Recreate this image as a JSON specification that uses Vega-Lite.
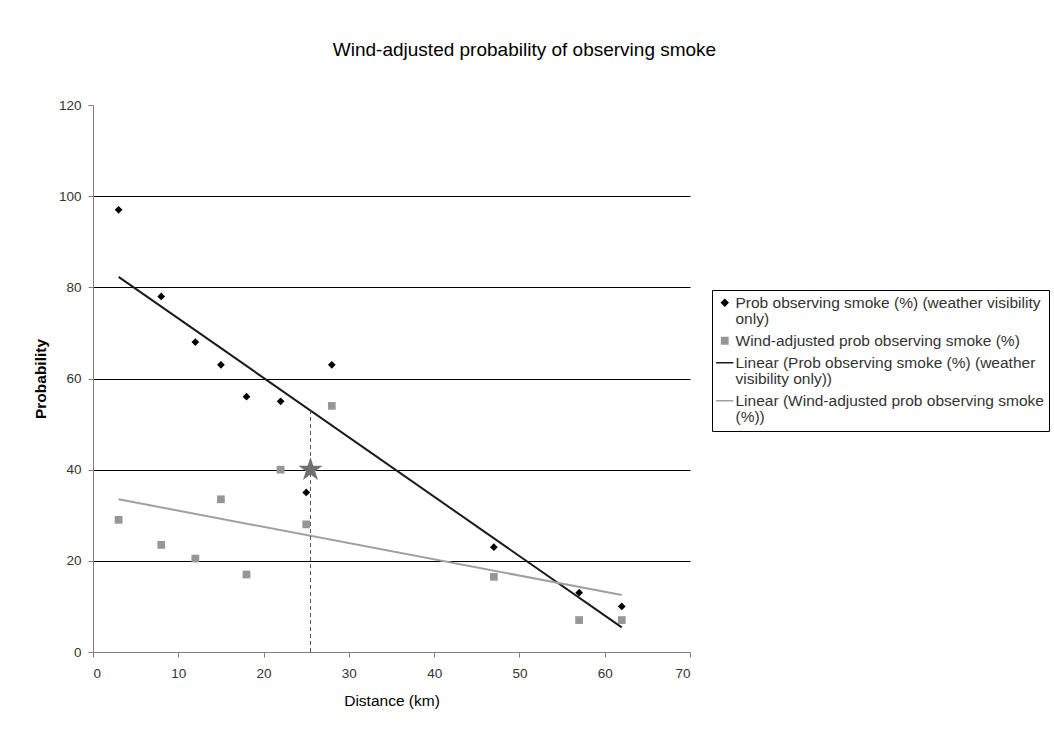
{
  "$schema": "https://vega.github.io/schema/vega-lite/v6.json",
  "autosize": "none",
  "padding": {"left": 93, "top": 105, "right": 364, "bottom": 78},
  "width": 597,
  "height": 547,
  "background": "white",
  "config": {
    "font": "Liberation Sans",
    "view": {"stroke": null},
    "axis": {"labelFont": "Liberation Sans", "titleFont": "Liberation Sans", "labelColor": "#333333", "titleColor": "#000000", "labelFontSize": 13.5, "titleFontSize": 15.5, "domainColor": "#808080", "tickColor": "#808080", "tickSize": 5}
  },
  "title": {"text": "Wind-adjusted probability of observing smoke", "fontSize": 19, "fontWeight": "normal", "font": "Liberation Sans", "color": "#000000", "anchor": "middle", "frame": "group", "dx": 133, "offset": 29, "baseline": "middle"},
  "datasets": {
    "pts": [
      {"x": 3, "y": 97, "series": "Prob observing smoke (%) (weather visibility only)"},
      {"x": 8, "y": 78, "series": "Prob observing smoke (%) (weather visibility only)"},
      {"x": 12, "y": 68, "series": "Prob observing smoke (%) (weather visibility only)"},
      {"x": 15, "y": 63, "series": "Prob observing smoke (%) (weather visibility only)"},
      {"x": 18, "y": 56, "series": "Prob observing smoke (%) (weather visibility only)"},
      {"x": 22, "y": 55, "series": "Prob observing smoke (%) (weather visibility only)"},
      {"x": 25, "y": 35, "series": "Prob observing smoke (%) (weather visibility only)"},
      {"x": 28, "y": 63, "series": "Prob observing smoke (%) (weather visibility only)"},
      {"x": 47, "y": 23, "series": "Prob observing smoke (%) (weather visibility only)"},
      {"x": 57, "y": 13, "series": "Prob observing smoke (%) (weather visibility only)"},
      {"x": 62, "y": 10, "series": "Prob observing smoke (%) (weather visibility only)"},
      {"x": 3, "y": 29, "series": "Wind-adjusted prob observing smoke (%)"},
      {"x": 8, "y": 23.5, "series": "Wind-adjusted prob observing smoke (%)"},
      {"x": 12, "y": 20.5, "series": "Wind-adjusted prob observing smoke (%)"},
      {"x": 15, "y": 33.5, "series": "Wind-adjusted prob observing smoke (%)"},
      {"x": 18, "y": 17, "series": "Wind-adjusted prob observing smoke (%)"},
      {"x": 22, "y": 40, "series": "Wind-adjusted prob observing smoke (%)"},
      {"x": 25, "y": 28, "series": "Wind-adjusted prob observing smoke (%)"},
      {"x": 28, "y": 54, "series": "Wind-adjusted prob observing smoke (%)"},
      {"x": 47, "y": 16.5, "series": "Wind-adjusted prob observing smoke (%)"},
      {"x": 57, "y": 7, "series": "Wind-adjusted prob observing smoke (%)"},
      {"x": 62, "y": 7, "series": "Wind-adjusted prob observing smoke (%)"}
    ],
    "trend": [
      {"x": 3, "y": 82.3, "series": "Linear (Prob observing smoke (%) (weather visibility only))"},
      {"x": 62, "y": 5.4, "series": "Linear (Prob observing smoke (%) (weather visibility only))"},
      {"x": 3, "y": 33.5, "series": "Linear (Wind-adjusted prob observing smoke (%))"},
      {"x": 62, "y": 12.5, "series": "Linear (Wind-adjusted prob observing smoke (%))"}
    ],
    "guide": [
      {"x": 25.5, "y": 0},
      {"x": 25.5, "y": 53}
    ],
    "star": [
      {"x": 25.5, "y": 40}
    ]
  },
  "layer": [
    {
      "data": {"name": "trend"},
      "mark": {"type": "line", "strokeWidth": 2},
      "encoding": {
        "x": {"field": "x", "type": "quantitative", "scale": {"domain": [0, 70], "nice": false}, "axis": {"title": "Distance (km)", "titleFontWeight": "normal", "values": [0, 10, 20, 30, 40, 50, 60, 70], "grid": false, "titlePadding": 14, "labelPadding": 9}},
        "y": {"field": "y", "type": "quantitative", "scale": {"domain": [0, 120], "nice": false}, "axis": {"title": "Probability", "titleFontWeight": "bold", "values": [0, 20, 40, 60, 80, 100, 120], "grid": true, "gridColor": {"condition": {"test": "datum.value === 120 || datum.value === 0", "value": "transparent"}, "value": "#000000"}, "gridOpacity": 1, "gridWidth": 1.2, "titlePadding": 10, "labelPadding": 7}},
        "color": {"field": "series", "type": "nominal",
          "scale": {"domain": ["Prob observing smoke (%) (weather visibility only)", "Wind-adjusted prob observing smoke (%)", "Linear (Prob observing smoke (%) (weather visibility only))", "Linear (Wind-adjusted prob observing smoke (%))"], "range": ["#000000", "#969696", "#1a1a1a", "#a0a0a0"]},
          "legend": {"title": null, "orient": "none", "legendX": 619, "legendY": 185, "strokeColor": "#000000", "padding": 5, "labelFont": "Liberation Sans", "labelFontSize": 15.5, "labelColor": "#333333", "labelLimit": 400, "labelOffset": 3, "rowPadding": 5, "symbolOffset": 0,
            "labelExpr": "datum.label == 'Prob observing smoke (%) (weather visibility only)' ? ['Prob observing smoke (%) (weather visibility', 'only)'] : datum.label == 'Linear (Prob observing smoke (%) (weather visibility only))' ? ['Linear (Prob observing smoke (%) (weather', 'visibility only))'] : datum.label == 'Linear (Wind-adjusted prob observing smoke (%))' ? ['Linear (Wind-adjusted prob observing smoke', '(%))'] : datum.label",
            "encode": {"labels": {"update": {"lineHeight": {"value": 16}}}, "symbols": {"update": {"stroke": {"scale": "color", "field": "value"}, "strokeWidth": {"value": 1.5}, "size": {"signal": "datum.index >= 2 ? 300 : 40"}}}}}}
      }
    },
    {
      "data": {"name": "guide"},
      "mark": {"type": "line", "strokeDash": [4, 3], "color": "#555555", "strokeWidth": 1},
      "encoding": {
        "x": {"field": "x", "type": "quantitative"},
        "y": {"field": "y", "type": "quantitative"}
      }
    },
    {
      "data": {"name": "pts"},
      "mark": {"type": "point", "filled": true, "opacity": 1},
      "encoding": {
        "x": {"field": "x", "type": "quantitative"},
        "y": {"field": "y", "type": "quantitative"},
        "size": {"value": 60},
        "color": {"field": "series", "type": "nominal"},
        "shape": {"field": "series", "type": "nominal",
          "scale": {"domain": ["Prob observing smoke (%) (weather visibility only)", "Wind-adjusted prob observing smoke (%)", "Linear (Prob observing smoke (%) (weather visibility only))", "Linear (Wind-adjusted prob observing smoke (%))"], "range": ["diamond", "square", "stroke", "stroke"]}}
      }
    },
    {
      "data": {"name": "star"},
      "mark": {"type": "point", "filled": true, "color": "#707070", "opacity": 1, "shape": "M0,-1L0.2245,-0.309L0.9511,-0.309L0.3633,0.118L0.5878,0.809L0,0.382L-0.5878,0.809L-0.3633,0.118L-0.9511,-0.309L-0.2245,-0.309Z", "size": 650},
      "encoding": {
        "x": {"field": "x", "type": "quantitative"},
        "y": {"field": "y", "type": "quantitative"}
      }
    }
  ]
}
